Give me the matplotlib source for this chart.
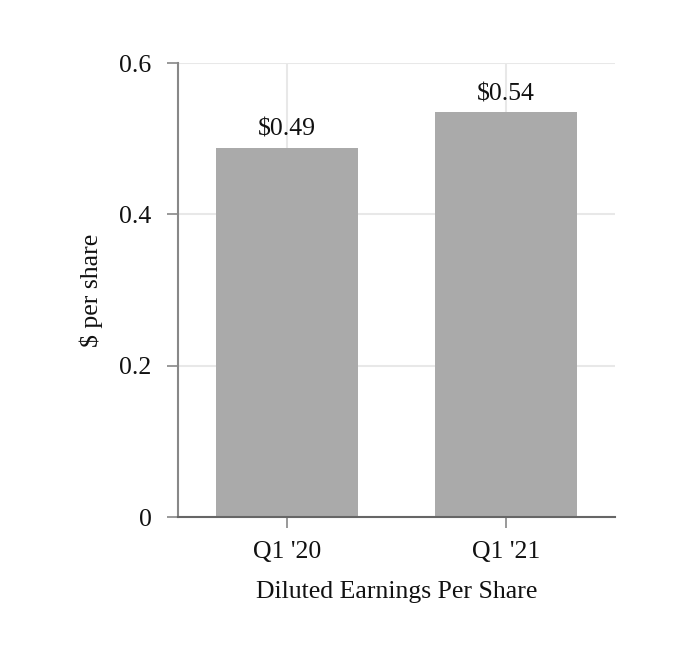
import matplotlib
matplotlib.use("Agg")
import matplotlib.pyplot as plt

# data
quarters = ["Q1 '20", "Q1 '21"]
eps = [0.488, 0.535]
eps_labels = ["$0.49", "$0.54"]
y_ticks = [0, 0.2, 0.4, 0.6]
y_tick_labels = ["0", "0.2", "0.4", "0.6"]

plt.rcParams["font.family"] = ["Liberation Serif", "DejaVu Serif"]

fig = plt.figure(figsize=(6.8, 6.66), dpi=100)
ax = fig.add_axes([0.2618, 0.2237, 0.6426, 0.6817])

x = list(range(len(quarters)))
ax.bar(x, eps, width=0.648, color="#aaaaaa", zorder=2)

# value labels above bars
for xi, v, lab in zip(x, eps, eps_labels):
    ax.annotate(lab, (xi, v), xytext=(0, 5), textcoords="offset points",
                ha="center", va="bottom", fontsize=18.5, color="#111111")

ax.set_xlim(-0.5, 1.5)
ax.set_ylim(0, 0.6)
ax.set_xticks(x)
ax.set_xticklabels(quarters)
ax.set_yticks(y_ticks)
ax.set_yticklabels(y_tick_labels)

ax.grid(True, color="#e8e8e8", linewidth=1.5, zorder=0)
ax.set_axisbelow(True)

for s in ["top", "right"]:
    ax.spines[s].set_visible(False)
ax.spines["left"].set_color("#888888")
ax.spines["left"].set_linewidth(1.5)
ax.spines["bottom"].set_color("#666666")
ax.spines["bottom"].set_linewidth(1.5)

ax.tick_params(axis="both", labelsize=18.5, colors="#888888", labelcolor="#111111",
               length=8, width=1.2)
ax.tick_params(axis="y", pad=11)
ax.tick_params(axis="x", pad=9)

ax.set_xlabel("Diluted Earnings Per Share", fontsize=18.5, color="#111111", labelpad=13)
ax.set_ylabel("$ per share", fontsize=18.5, color="#111111", labelpad=12)

fig.savefig("out.png", dpi=100)
